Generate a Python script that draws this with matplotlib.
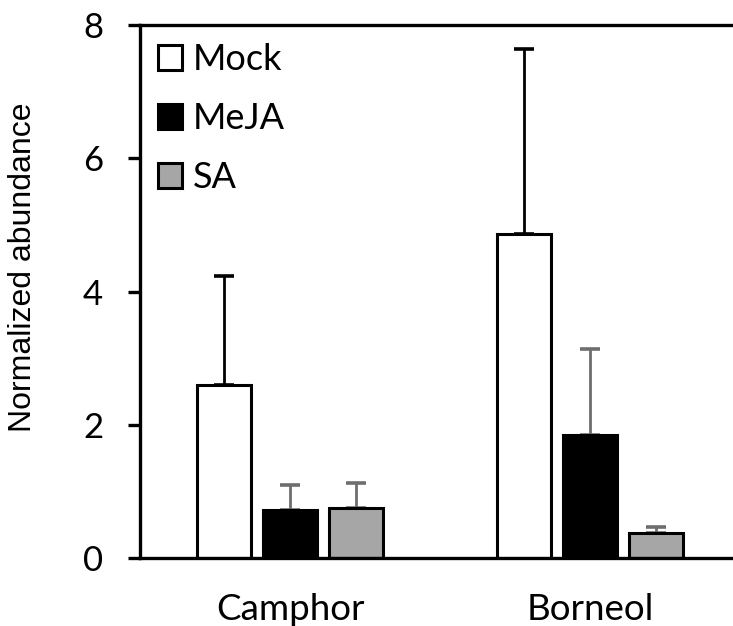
import numpy as np
import matplotlib.pyplot as plt
from matplotlib.patches import Patch

# data
categories = ['Camphor', 'Borneol']
treatments = ['Mock', 'MeJA', 'SA']
mock = [2.60, 4.86]
mock_err = [1.63, 2.78]
meja = [0.72, 1.85]
meja_err = [0.38, 1.29]
sa = [0.75, 0.37]
sa_err = [0.38, 0.10]

values = [mock, meja, sa]
errors = [mock_err, meja_err, sa_err]
face_colors = ['white', 'black', '#a6a6a6']
err_colors = ['black', '#6e6e6e', '#6e6e6e']

plt.rcParams['font.family'] = ['Lato', 'DejaVu Sans']

fig = plt.figure(figsize=(7.33, 6.26), dpi=100)
ax = fig.add_axes([0.191, 0.1086, 0.8186, 0.8514])

x = np.arange(len(categories))
offsets = [-0.22, 0.0, 0.22]
width = 0.18

for i in range(3):
    ax.bar(x + offsets[i], values[i], width, color=face_colors[i],
           edgecolor='black', linewidth=2.2, zorder=2)
    ax.errorbar(x + offsets[i], values[i], yerr=[np.zeros(2), errors[i]],
                fmt='none', ecolor=err_colors[i], elinewidth=2.0,
                capsize=7.5, capthick=2.6, zorder=1)

ax.set_xlim(-0.5, 1.5)
ax.set_ylim(0, 8)
ax.set_yticks([0, 2, 4, 6, 8])
ax.set_xticks(x)
ax.set_xticklabels(categories, fontsize=26.5)
ax.tick_params(axis='x', length=0, pad=25)
ax.tick_params(axis='y', direction='out', length=8.6, width=2.4,
               labelsize=25, pad=18)

for side in ['left', 'top', 'bottom', 'right']:
    ax.spines[side].set_linewidth(2.4)

ax.set_ylabel('Normalized abundance', fontsize=23, family='Liberation Sans')
ax.yaxis.set_label_coords(-0.17, 0.546)

handles = [Patch(facecolor=face_colors[i], edgecolor='black', linewidth=2.2)
           for i in range(3)]
ax.legend(handles, treatments, loc='upper left', frameon=False, fontsize=26,
          handlelength=0.67, handleheight=0.67, handletextpad=0.28,
          labelspacing=0.72, borderaxespad=0.3, borderpad=0.2)

fig.savefig('out.png', dpi=100)
